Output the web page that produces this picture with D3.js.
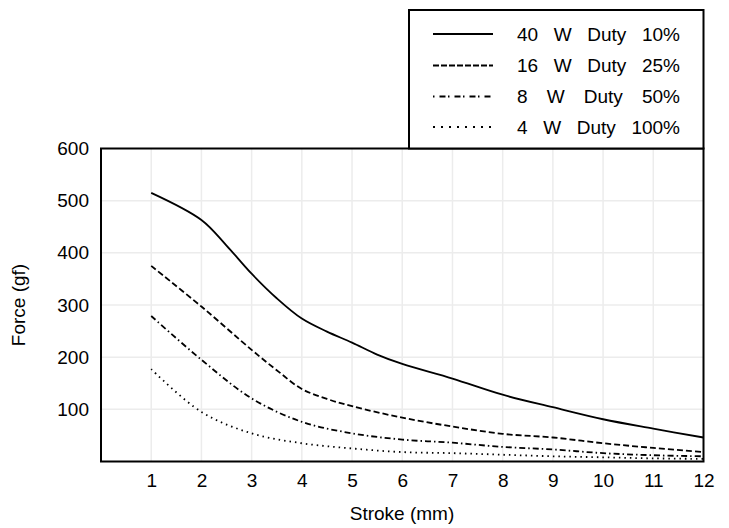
<!DOCTYPE html>
<html>
<head>
<meta charset="utf-8">
<script src="https://cdn.jsdelivr.net/npm/d3@7"></script>
<style>
  html, body { margin: 0; padding: 0; background: #fff; }
  svg { display: block; font-family: "Liberation Sans", Arial, sans-serif; }
</style>
</head>
<body>
<svg id="chart" width="729" height="528"></svg>
<script>
// ---- data ----
const strokeMM = [1, 2, 2.5, 3, 3.5, 4, 4.5, 5, 5.5, 6, 7, 8, 9, 10, 11, 12];
const force40W = [515, 463, 414, 360, 313, 274, 249, 228, 205, 187, 159, 128, 104, 81, 63, 46];
const strokeLow = [1, 2, 3, 3.5, 4, 4.5, 5, 6, 7, 8, 9, 10, 11, 12];
const force16W = [375, 297, 214, 175, 139, 120, 106, 84, 67, 53, 46, 35, 26, 18];
const strokeStd = [1, 2, 3, 4, 5, 6, 7, 8, 9, 10, 11, 12];
const force8W = [279, 195, 121, 76, 54, 42, 36, 28, 23, 16, 12, 10];
const force4W = [177, 95, 54, 35, 25, 18, 16, 13, 10, 8, 6, 5];
const seriesNames = ["40 W Duty 10%", "16 W Duty 25%", "8 W Duty 50%", "4 W Duty 100%"];
const xTicks = [1, 2, 3, 4, 5, 6, 7, 8, 9, 10, 11, 12];
const yTicks = [100, 200, 300, 400, 500, 600];
const xTitle = "Stroke (mm)";
const yTitle = "Force (gf)";

const series = [
  { name: seriesNames[0], xs: strokeMM, ys: force40W, dash: null },
  { name: seriesNames[1], xs: strokeLow, ys: force16W, dash: "6,3" },
  { name: seriesNames[2], xs: strokeStd, ys: force8W, dash: "6,3,1.5,3" },
  { name: seriesNames[3], xs: strokeStd, ys: force4W, dash: "1.5,4" }
];

// ---- layout ----
const FS = 19;
const svg = d3.select("#chart");
const plot = { left: 101, right: 703.5, top: 148.5, bottom: 461.5 };
const x = d3.scaleLinear().domain([0, 12]).range([plot.left, plot.right]);
const y = d3.scaleLinear().domain([0, 600]).range([plot.bottom, plot.top]);

// gridlines
const grid = svg.append("g").attr("stroke", "#ececec").attr("stroke-width", 1.5);
grid.selectAll(".vg").data(xTicks.filter(d => d < 12)).enter().append("line")
  .attr("x1", d => x(d)).attr("x2", d => x(d))
  .attr("y1", plot.top).attr("y2", plot.bottom);
grid.selectAll(".hg").data(yTicks.filter(d => d < 600)).enter().append("line")
  .attr("x1", plot.left).attr("x2", plot.right)
  .attr("y1", d => y(d)).attr("y2", d => y(d));

// axes (labels only, no tick marks)
const xAxis = svg.append("g").attr("transform", `translate(0,${plot.bottom})`)
  .call(d3.axisBottom(x).tickValues(xTicks).tickSize(0).tickPadding(12).tickFormat(d3.format("d")));
xAxis.select(".domain").remove();
xAxis.selectAll("text").attr("font-size", FS).attr("font-family", "Liberation Sans, Arial, sans-serif").attr("fill", "#000");

const yAxis = svg.append("g").attr("transform", `translate(${plot.left},0)`)
  .call(d3.axisLeft(y).tickValues(yTicks).tickSize(0).tickPadding(12).tickFormat(d3.format("d")));
yAxis.select(".domain").remove();
yAxis.selectAll("text").attr("font-size", FS).attr("font-family", "Liberation Sans, Arial, sans-serif").attr("fill", "#000");

// lines
const lineGen = d3.line().curve(d3.curveCatmullRom.alpha(0.5));
svg.append("g").selectAll("path").data(series).enter().append("path")
  .attr("d", s => lineGen(s.xs.map((v, i) => [x(v), y(s.ys[i])])))
  .attr("fill", "none").attr("stroke", "#000").attr("stroke-width", 1.8)
  .attr("stroke-dasharray", s => s.dash);

// plot frame
svg.append("rect")
  .attr("x", plot.left).attr("y", plot.top)
  .attr("width", plot.right - plot.left).attr("height", plot.bottom - plot.top)
  .attr("fill", "none").attr("stroke", "#000").attr("stroke-width", 2);

// axis titles
svg.append("text").attr("x", 402).attr("y", 520).attr("text-anchor", "middle")
  .attr("font-size", FS).text(xTitle);
svg.append("text").attr("transform", "translate(25,305) rotate(-90)").attr("text-anchor", "middle")
  .attr("font-size", FS).text(yTitle);

// legend
const lg = svg.append("g");
lg.append("rect").attr("x", 409).attr("y", 10).attr("width", 703.5 - 409).attr("height", 148.5 - 10)
  .attr("fill", "#fff").attr("stroke", "#000").attr("stroke-width", 2);
const rowY = [34, 65.5, 96.5, 127];
const legDash = [null, "6,2", "1.5,5,6,2.5", "2,6"];
series.forEach((s, i) => {
  lg.append("line").attr("x1", 433).attr("x2", 493).attr("y1", rowY[i]).attr("y2", rowY[i])
    .attr("stroke", "#000").attr("stroke-width", 2).attr("stroke-dasharray", legDash[i]);
  // justified words between left and right edge
  const words = s.name.split(" ");
  const left = 517, right = 680;
  const nodes = words.map(w => lg.append("text").attr("font-size", FS).attr("y", rowY[i]).attr("dy", "0.35em").text(w));
  const widths = nodes.map(n => n.node().getComputedTextLength());
  const gap = (right - left - d3.sum(widths)) / (words.length - 1);
  let cx = left;
  nodes.forEach((n, j) => { n.attr("x", cx); cx += widths[j] + gap; });
});
</script>
</body>
</html>
